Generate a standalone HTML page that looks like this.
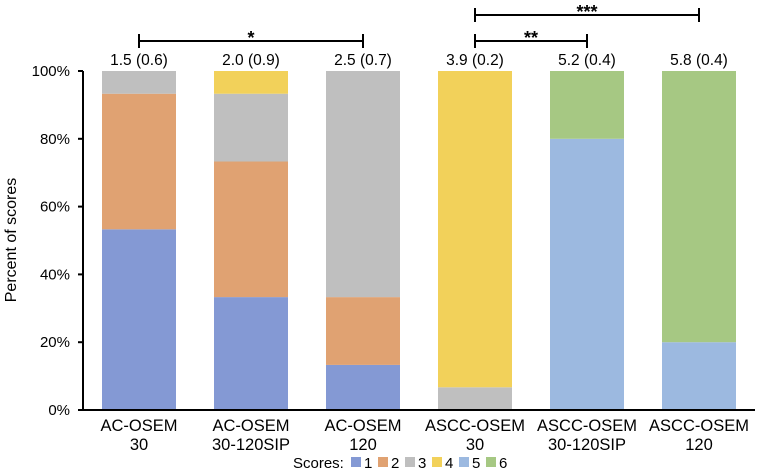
<!DOCTYPE html>
<html><head><meta charset="utf-8"><style>
body{margin:0;background:#fff;font-family:"Liberation Sans",Arial,sans-serif}
</style></head><body>
<svg width="757" height="472" id="c" style="display:block"></svg>
<script>
const categories=[["AC-OSEM","30"],["AC-OSEM","30-120SIP"],["AC-OSEM","120"],["ASCC-OSEM","30"],["ASCC-OSEM","30-120SIP"],["ASCC-OSEM","120"]];
const score1=[53.3,33.3,13.3,0,0,0];
const score2=[40,40,20,0,0,0];
const score3=[6.7,20,66.7,6.7,0,0];
const score4=[0,6.7,0,93.3,0,0];
const score5=[0,0,0,0,80,20];
const score6=[0,0,0,0,20,80];
const meanLabels=["1.5 (0.6)","2.0 (0.9)","2.5 (0.7)","3.9 (0.2)","5.2 (0.4)","5.8 (0.4)"];
const yTicks=[0,20,40,60,80,100];
const seriesNames=["1","2","3","4","5","6"];
const colors=["#8499d4","#e0a272","#bfbfbf","#f2d15a","#9cb9e0","#a6c883"];
const series=[score1,score2,score3,score4,score5,score6];
const svg=document.getElementById('c');const NS="http://www.w3.org/2000/svg";
function mk(t,a,p){const e=document.createElementNS(NS,t);for(const k in a)e.setAttribute(k,a[k]);(p||svg).appendChild(e);return e;}
const x0=83,band=112,bw=74,yTop=71,yBot=410;
const y=v=>yBot-(yBot-yTop)*v/100;
const xc=i=>x0+band*i+band/2;
categories.forEach((c,i)=>{let cum=0;
 series.forEach((s,k)=>{const v=s[i];if(v>0){const r=mk('rect',{x:xc(i)-bw/2,y:y(cum+v),width:bw,height:y(cum)-y(cum+v),fill:colors[k]});
 
 }cum+=v;});
 const t=mk('text',{x:xc(i),y:65,'text-anchor':'middle','font-size':15.5});t.textContent=meanLabels[i];
 
 
 c.forEach((ln,j)=>{const tt=mk('text',{x:xc(i),y:431+j*19,'text-anchor':'middle','font-size':16.5});tt.textContent=ln;
 
 });
});
const ax=mk('path',{d:`M${x0} ${yTop}V${yBot}H755`,stroke:'#000','stroke-width':2,fill:'none'});


yTicks.forEach(v=>{mk('line',{x1:x0-5,x2:x0,y1:y(v),y2:y(v),stroke:'#000','stroke-width':2});
 const t=mk('text',{x:70,y:y(v)+5,'text-anchor':'end','font-size':15});t.textContent=v+'%';
 
 });
const yt=mk('text',{transform:'translate(16,240) rotate(-90)','text-anchor':'middle','font-size':16});yt.textContent='Percent of scores';


function bracket(i,j,yy,label){const g=mk('g',{});
 
 
 mk('path',{d:`M${xc(i)} ${yy-7}V${yy+7}M${xc(i)} ${yy}H${xc(j)}M${xc(j)} ${yy-7}V${yy+7}`,stroke:'#000','stroke-width':2,fill:'none'},g);
 const t=mk('text',{x:(xc(i)+xc(j))/2,y:yy+3,'text-anchor':'middle','font-size':18,'font-weight':'bold'},g);t.textContent=label;}
bracket(0,2,41,'*');bracket(3,4,41,'**');bracket(3,5,15,'***');
const lg=mk('g',{});


let lx=293;const lt=mk('text',{x:lx,y:468,'font-size':15},lg);lt.textContent='Scores:';lx+=58;
seriesNames.forEach((n,k)=>{const r=mk('rect',{x:lx,y:457,width:10,height:10,fill:colors[k]},lg);
 
 
 const t=mk('text',{x:lx+13,y:468,'font-size':15},lg);t.textContent=n;lx+=27;});
</script>
</body></html>
